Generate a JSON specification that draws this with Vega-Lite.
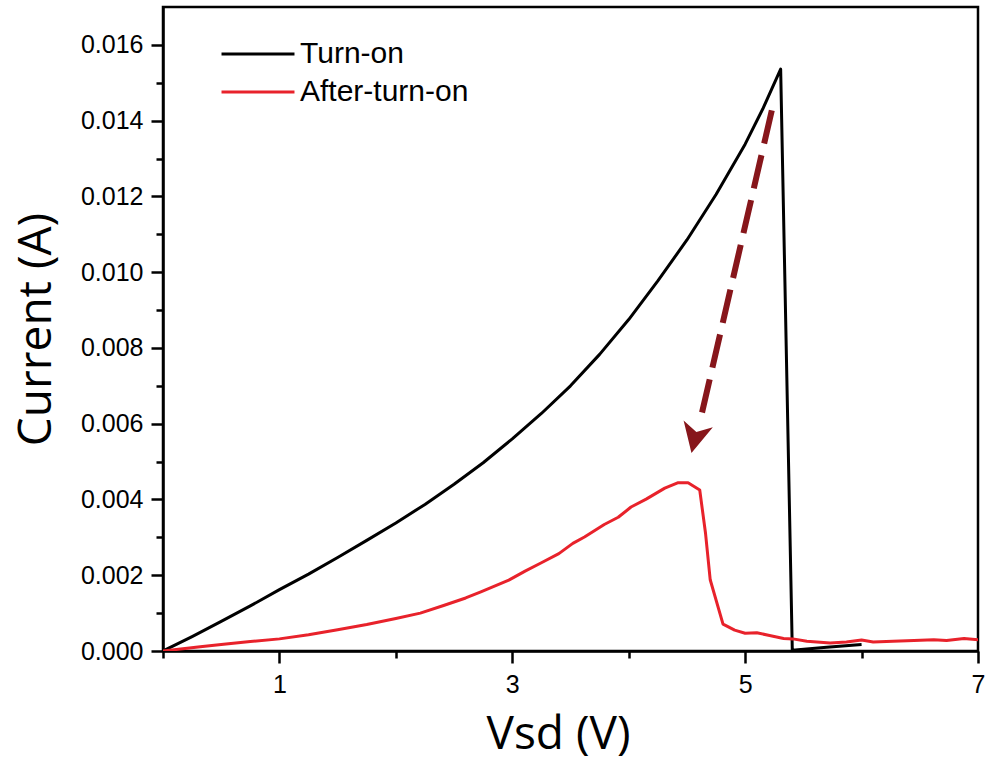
{
  "$schema": "https://vega.github.io/schema/vega-lite/v6.json",
  "width": 815,
  "height": 644,
  "autosize": {"type": "none"},
  "padding": {"left": 163, "top": 7, "right": 9, "bottom": 110},
  "background": "white",
  "config": {
    "view": {"stroke": "#000", "strokeWidth": 2.5},
    "axis": {
      "grid": false,
      "domainColor": "#000",
      "domainWidth": 2.5,
      "tickColor": "#000",
      "tickWidth": 2.5,
      "labelFont": "Liberation Sans",
      "labelFontSize": 25,
      "labelColor": "#000",
      "labelOverlap": false,
      "labelFlush": false,
      "titleFont": "Open Sans",
      "titleFontSize": 46,
      "titleFontWeight": "normal",
      "titleColor": "#000"
    }
  },
  "datasets": {
    "curves": [
      {"s": "Turn-on", "v": 0, "i": 0},
      {"s": "Turn-on", "v": 0.25, "i": 0.00038},
      {"s": "Turn-on", "v": 0.5, "i": 0.00078},
      {"s": "Turn-on", "v": 0.75, "i": 0.00119},
      {"s": "Turn-on", "v": 1.0, "i": 0.00162},
      {"s": "Turn-on", "v": 1.25, "i": 0.00203},
      {"s": "Turn-on", "v": 1.5, "i": 0.00247},
      {"s": "Turn-on", "v": 1.75, "i": 0.00292},
      {"s": "Turn-on", "v": 2.0, "i": 0.00338},
      {"s": "Turn-on", "v": 2.25, "i": 0.00387},
      {"s": "Turn-on", "v": 2.5, "i": 0.0044},
      {"s": "Turn-on", "v": 2.75, "i": 0.00497},
      {"s": "Turn-on", "v": 3.0, "i": 0.0056},
      {"s": "Turn-on", "v": 3.25, "i": 0.00627},
      {"s": "Turn-on", "v": 3.5, "i": 0.007},
      {"s": "Turn-on", "v": 3.75, "i": 0.00783},
      {"s": "Turn-on", "v": 4.0, "i": 0.00875},
      {"s": "Turn-on", "v": 4.25, "i": 0.00977},
      {"s": "Turn-on", "v": 4.5, "i": 0.01085},
      {"s": "Turn-on", "v": 4.75, "i": 0.01205},
      {"s": "Turn-on", "v": 5.0, "i": 0.01338},
      {"s": "Turn-on", "v": 5.15, "i": 0.0143},
      {"s": "Turn-on", "v": 5.305, "i": 0.01536},
      {"s": "Turn-on", "v": 5.405, "i": 0.00002},
      {"s": "Turn-on", "v": 5.7, "i": 0.0001},
      {"s": "Turn-on", "v": 6.0, "i": 0.00017},
      {"s": "After-turn-on", "v": 0, "i": 0},
      {"s": "After-turn-on", "v": 0.32, "i": 0.00011},
      {"s": "After-turn-on", "v": 0.5, "i": 0.00017},
      {"s": "After-turn-on", "v": 0.75, "i": 0.00025},
      {"s": "After-turn-on", "v": 1.0, "i": 0.00032},
      {"s": "After-turn-on", "v": 1.25, "i": 0.00043},
      {"s": "After-turn-on", "v": 1.5, "i": 0.00056},
      {"s": "After-turn-on", "v": 1.75, "i": 0.0007},
      {"s": "After-turn-on", "v": 2.0, "i": 0.00086},
      {"s": "After-turn-on", "v": 2.21, "i": 0.001},
      {"s": "After-turn-on", "v": 2.41, "i": 0.0012},
      {"s": "After-turn-on", "v": 2.6, "i": 0.0014},
      {"s": "After-turn-on", "v": 2.73, "i": 0.00156},
      {"s": "After-turn-on", "v": 2.97, "i": 0.00187},
      {"s": "After-turn-on", "v": 3.11, "i": 0.00211},
      {"s": "After-turn-on", "v": 3.25, "i": 0.00233},
      {"s": "After-turn-on", "v": 3.4, "i": 0.00257},
      {"s": "After-turn-on", "v": 3.52, "i": 0.00284},
      {"s": "After-turn-on", "v": 3.62, "i": 0.00301},
      {"s": "After-turn-on", "v": 3.79, "i": 0.00334},
      {"s": "After-turn-on", "v": 3.91, "i": 0.00353},
      {"s": "After-turn-on", "v": 4.02, "i": 0.0038},
      {"s": "After-turn-on", "v": 4.15, "i": 0.00401},
      {"s": "After-turn-on", "v": 4.31, "i": 0.0043},
      {"s": "After-turn-on", "v": 4.42, "i": 0.00444},
      {"s": "After-turn-on", "v": 4.51, "i": 0.00444},
      {"s": "After-turn-on", "v": 4.61, "i": 0.00425},
      {"s": "After-turn-on", "v": 4.66, "i": 0.0031},
      {"s": "After-turn-on", "v": 4.7, "i": 0.00188},
      {"s": "After-turn-on", "v": 4.81, "i": 0.00071},
      {"s": "After-turn-on", "v": 4.91, "i": 0.00055},
      {"s": "After-turn-on", "v": 5.0, "i": 0.00047},
      {"s": "After-turn-on", "v": 5.1, "i": 0.00048},
      {"s": "After-turn-on", "v": 5.21, "i": 0.00041},
      {"s": "After-turn-on", "v": 5.33, "i": 0.00033},
      {"s": "After-turn-on", "v": 5.41, "i": 0.00032},
      {"s": "After-turn-on", "v": 5.53, "i": 0.00026},
      {"s": "After-turn-on", "v": 5.73, "i": 0.00021},
      {"s": "After-turn-on", "v": 5.87, "i": 0.00024},
      {"s": "After-turn-on", "v": 6.0, "i": 0.00029},
      {"s": "After-turn-on", "v": 6.1, "i": 0.00024},
      {"s": "After-turn-on", "v": 6.27, "i": 0.00026},
      {"s": "After-turn-on", "v": 6.45, "i": 0.00028},
      {"s": "After-turn-on", "v": 6.62, "i": 0.0003},
      {"s": "After-turn-on", "v": 6.73, "i": 0.00028},
      {"s": "After-turn-on", "v": 6.88, "i": 0.00033},
      {"s": "After-turn-on", "v": 7.0, "i": 0.0003}
    ],
    "arrow": [{"v": 5.229, "i": 0.01427, "v2": 4.615, "i2": 0.0061}],
    "head": [{"v": 4.568, "i": 0.00561}]
  },
  "layer": [
    {
      "data": {"name": "curves"},
      "mark": {"type": "line", "strokeWidth": 3, "strokeJoin": "round", "clip": true},
      "encoding": {
        "x": {
          "field": "v", "type": "quantitative",
          "scale": {"domain": [0, 7], "nice": false, "zero": false},
          "axis": {
            "title": "Vsd (V)",
            "values": [0, 1, 2, 3, 4, 5, 6, 7],
            "format": "d",
            "labelExpr": "datum.value % 2 === 1 ? datum.label : ''",
            "tickSize": {"condition": {"test": "datum.value % 2 === 1", "value": 12}, "value": 7},
            "labelPadding": 9,
            "titlePadding": 15,
            "titleX": 395
          }
        },
        "y": {
          "field": "i", "type": "quantitative",
          "scale": {"domain": [0, 0.017], "nice": false},
          "axis": {
            "title": "Current (A)",
            "values": [0, 0.001, 0.002, 0.003, 0.004, 0.005, 0.006, 0.007, 0.008, 0.009, 0.01, 0.011, 0.012, 0.013, 0.014, 0.015, 0.016],
            "labelExpr": "round(datum.value * 1000) % 2 === 0 ? format(datum.value, '.3f') : ''",
            "tickSize": {"condition": {"test": "round(datum.value * 1000) % 2 === 0", "value": 12}, "value": 7},
            "labelPadding": 8,
            "titlePadding": 20
          }
        },
        "color": {
          "field": "s", "type": "nominal",
          "scale": {"domain": ["Turn-on", "After-turn-on"], "range": ["#000000", "#e8222b"]},
          "legend": {
            "title": null,
            "orient": "none",
            "legendX": 80,
            "legendY": 32,
            "padding": 0,
            "symbolType": "M-5,0H5",
            "symbolSize": 213,
            "symbolStrokeWidth": 3,
            "labelFont": "Liberation Sans",
            "labelFontSize": 30,
            "labelColor": "#000",
            "labelOffset": 27,
            "labelLimit": 400,
            "rowPadding": 8
          }
        }
      }
    },
    {
      "data": {"name": "arrow"},
      "mark": {"type": "rule", "color": "#87161b", "strokeWidth": 6, "strokeDash": [34, 12]},
      "encoding": {
        "x": {"field": "v", "type": "quantitative"},
        "y": {"field": "i", "type": "quantitative"},
        "x2": {"field": "v2"},
        "y2": {"field": "i2"}
      }
    },
    {
      "data": {"name": "head"},
      "mark": {"type": "point", "shape": "M0,1L-1,-1L0,-0.45L1,-1Z", "filled": true, "color": "#87161b", "size": 900, "angle": 13, "opacity": 1},
      "encoding": {
        "x": {"field": "v", "type": "quantitative"},
        "y": {"field": "i", "type": "quantitative"}
      }
    }
  ]
}
